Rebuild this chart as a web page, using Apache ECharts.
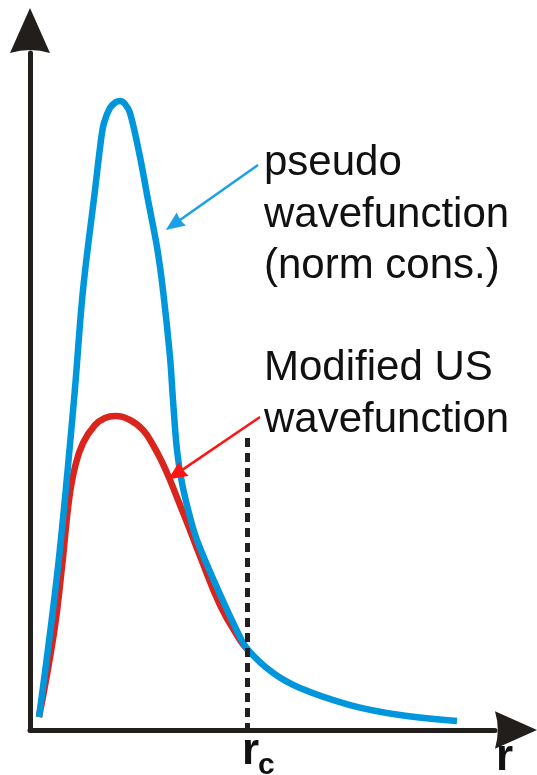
<!DOCTYPE html>
<html>
<head>
<meta charset="utf-8">
<script src="https://cdn.jsdelivr.net/npm/echarts@6/dist/echarts.min.js"></script>
<style>
html,body{margin:0;padding:0;background:#fff;}
#chart{width:537px;height:775px;}
</style>
</head>
<body>
<div id="chart"></div>
<script>
// Pseudo wavefunction (norm conserving) – r, value
const blueR = [0.194,0.602,0.946,1.140,1.398,1.527,1.591,1.720,1.849,1.935,2.043,2.151,2.366,2.538,2.731,2.860,3.011,3.075,3.161,3.269,3.441,3.591,3.978,4.473,4.688,5.226,5.806,6.882,7.957,9.183];
const blueY = [0.192,2.408,4.874,6.499,7.976,8.715,8.966,9.188,9.276,9.291,9.247,9.114,8.464,7.829,7.134,6.499,5.510,4.874,4.136,3.648,3.146,2.806,2.171,1.433,1.182,0.842,0.620,0.369,0.222,0.133];
// Modified ultrasoft wavefunction
const redR = [0.194,0.516,0.688,0.839,0.968,1.140,1.398,1.613,1.828,2.151,2.430,2.645,2.839,3.011,3.183,3.398,3.656,4.086,4.516,4.688];
const redY = [0.192,1.433,2.408,3.397,3.885,4.239,4.505,4.609,4.638,4.579,4.431,4.210,3.959,3.693,3.397,3.028,2.570,1.846,1.329,1.182];
// cutoff radius r_c and its dashed marker top
const rc = 4.667;
const rcTop = 4.313;
// annotation arrows [startR, startY, endR, endY]
const blueArrow = [4.903, 8.346, 3.088, 7.468];
const redArrow = [4.946, 4.623, 3.140, 3.780];
// labels
const blueLabel = ['pseudo', 'wavefunction', '(norm cons.)'];
const redLabel = ['Modified US', 'wavefunction'];
const xName = 'r';
const rcName = ['r', 'c'];

const zip = (a, b) => a.map((v, i) => [v, b[i]]);
const axisColor = '#221E1C';
const headPath = 'path://M20,0 L40,45 Q20,39 0,45 Z';
const arrowPath = 'path://M10,0 L20,24 Q10,21 0,24 Z';

const chart = echarts.init(document.getElementById('chart'), null, {renderer: 'canvas'});
const font = '"Liberation Sans", Arial, sans-serif';

chart.setOption({
  animation: false,
  backgroundColor: '#ffffff',
  grid: {left: 30, right: 42, top: 53, bottom: 45},
  xAxis: {
    type: 'value', min: 0, max: 10,
    splitLine: {show: false}, axisTick: {show: false}, axisLabel: {show: false},
    axisLine: {show: true, onZero: false, lineStyle: {color: axisColor, width: 5},
      symbol: ['none', headPath], symbolSize: [40, 42], symbolOffset: [0, 21]}
  },
  yAxis: {
    type: 'value', min: 0, max: 10,
    splitLine: {show: false}, axisTick: {show: false}, axisLabel: {show: false},
    axisLine: {show: true, onZero: false, lineStyle: {color: axisColor, width: 5},
      symbol: ['none', headPath], symbolSize: [40, 45], symbolOffset: [0, 22.5]}
  },
  series: [
    {
      type: 'line', data: [], silent: true,
      markLine: {
        silent: true, symbol: ['none', 'none'], animation: false,
        label: {show: false},
        lineStyle: {color: '#231F20', width: 5, type: [9, 6]},
        emphasis: {disabled: true},
        data: [[{coord: [rc, rcTop]}, {coord: [rc, 0]}]]
      }
    },
    {
      type: 'line', data: zip(redR, redY), smooth: 0.45, showSymbol: false, silent: true,
      lineStyle: {color: '#DA251D', width: 6.5}, z: 3,
      markLine: {
        silent: true, symbol: ['none', arrowPath], symbolSize: [17, 19], animation: false,
        label: {show: false}, emphasis: {disabled: true},
        lineStyle: {color: '#FF1414', width: 2.5, type: 'solid'},
        data: [[{coord: [redArrow[0], redArrow[1]]}, {coord: [redArrow[2], redArrow[3]]}]]
      }
    },
    {
      type: 'line', data: zip(blueR, blueY), smooth: 0.35, showSymbol: false, silent: true,
      lineStyle: {color: '#0096DC', width: 6.5}, z: 4,
      markLine: {
        silent: true, symbol: ['none', arrowPath], symbolSize: [16, 19], animation: false,
        label: {show: false}, emphasis: {disabled: true},
        lineStyle: {color: '#1A9FE8', width: 2.5, type: 'solid'},
        data: [[{coord: [blueArrow[0], blueArrow[1]]}, {coord: [blueArrow[2], blueArrow[3]]}]]
      }
    }
  ],
  graphic: [
    {type: 'text', x: 264, y: 138, style: {text: blueLabel.join('\n'), font: '42px ' + font, lineHeight: 51.5, fill: '#111', align: 'left', verticalAlign: 'top'}},
    {type: 'text', x: 264, y: 343, style: {text: redLabel.join('\n'), font: '42px ' + font, lineHeight: 51.5, fill: '#111', align: 'left', verticalAlign: 'top'}},
    {type: 'text', x: 242, y: 752, style: {text: rcName[0], font: 'bold 44px ' + font, fill: '#111', align: 'left', verticalAlign: 'middle'}},
    {type: 'text', x: 258, y: 766, style: {text: rcName[1], font: 'bold 30px ' + font, fill: '#111', align: 'left', verticalAlign: 'middle'}},
    {type: 'text', x: 496, y: 758, style: {text: xName, font: 'bold 44px ' + font, fill: '#111', align: 'left', verticalAlign: 'middle'}}
  ]
});
</script>
</body>
</html>
